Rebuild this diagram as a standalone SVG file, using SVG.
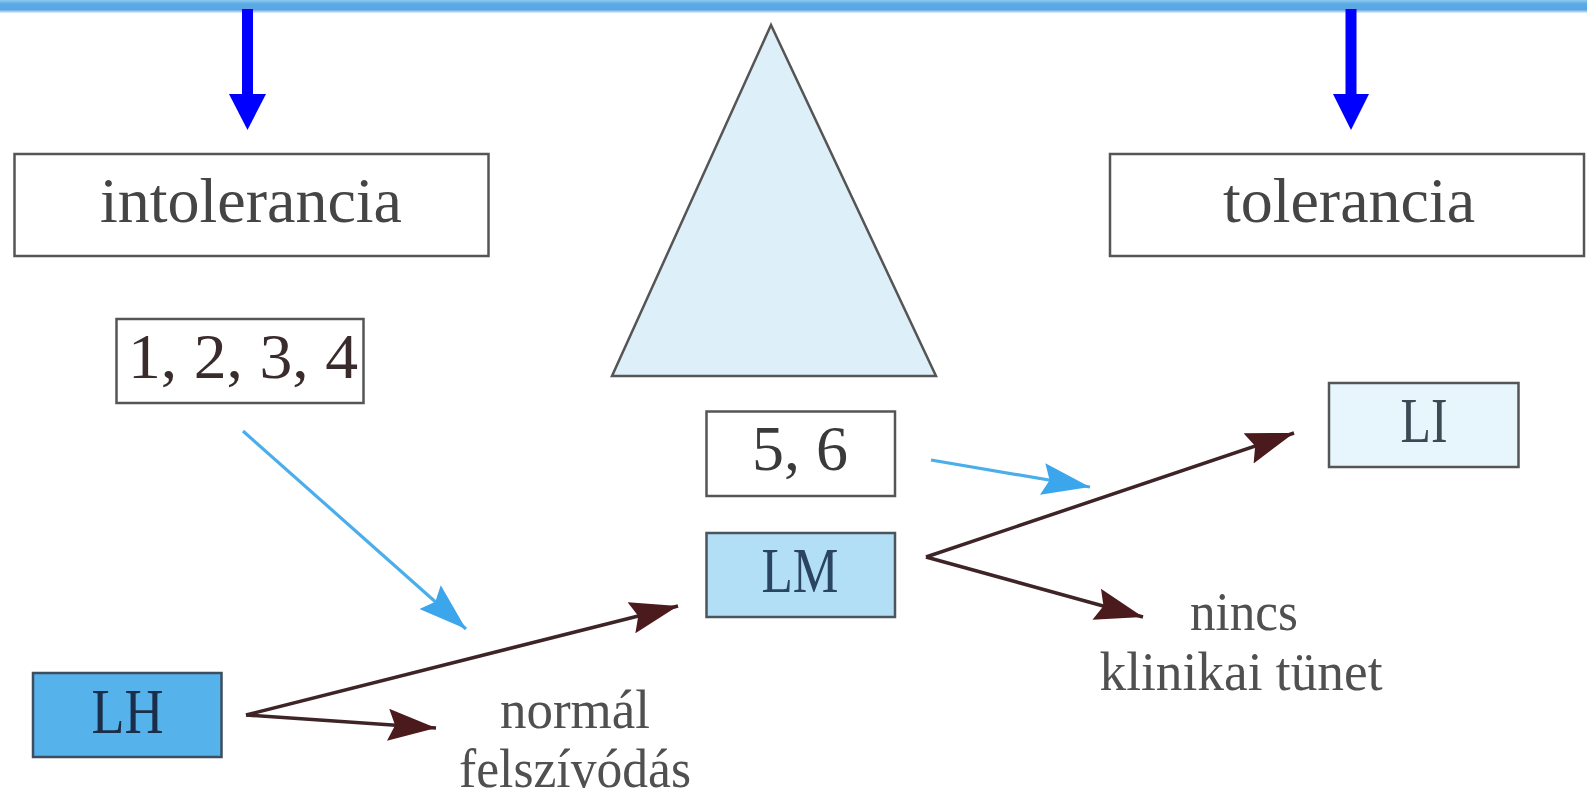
<svg xmlns="http://www.w3.org/2000/svg" width="1587" height="798" viewBox="0 0 1587 798">
  <defs>
    <linearGradient id="topbar" x1="0" y1="0" x2="0" y2="1">
      <stop offset="0" stop-color="#8ccaf0"/>
      <stop offset="0.3" stop-color="#5aaae6"/>
      <stop offset="0.75" stop-color="#5aa6e2"/>
      <stop offset="1" stop-color="#e8f4fc"/>
    </linearGradient>
    <marker id="darkHead" markerUnits="userSpaceOnUse" markerWidth="50" markerHeight="32" refX="48" refY="16" orient="auto" viewBox="0 0 50 32">
      <path d="M0,0 L48,16 L0,32 L7,16 z" fill="#4a1a1c"/>
    </marker>
    <marker id="blueHead" markerUnits="userSpaceOnUse" markerWidth="50" markerHeight="32" refX="48" refY="16" orient="auto" viewBox="0 0 50 32">
      <path d="M0,0 L48,16 L0,32 L7,16 z" fill="#3ba6ec"/>
    </marker>
    <style>
      .box { fill: #ffffff; stroke: #555555; stroke-width: 2.5; }
      .big { font-family: "Liberation Serif", "DejaVu Serif", serif; font-size: 64px; text-anchor: middle; }
      .lbl { font-family: "Liberation Serif", "DejaVu Serif", serif; font-size: 54px; text-anchor: middle; fill: #505050; }
      .dark { stroke: #3e2426; stroke-width: 3.5; fill: none; marker-end: url(#darkHead); }
      .blue { stroke: #4aaeea; stroke-width: 3.2; fill: none; marker-end: url(#blueHead); }
      .topArrow { fill: #0000ff; }
    </style>
  </defs>

  <rect x="0" y="0" width="1587" height="798" fill="#ffffff"/>

  <g id="top-bar">
    <rect x="0" y="0" width="1587" height="13" fill="url(#topbar)"/>
  </g>

  <g id="connectors">
    <g id="arrow-top-left">
      <rect class="topArrow" x="242" y="9" width="11" height="86"/>
      <polygon class="topArrow" points="229,94 266,94 247.5,130"/>
    </g>
    <g id="arrow-top-right">
      <rect class="topArrow" x="1345.5" y="9" width="11" height="86"/>
      <polygon class="topArrow" points="1333,94 1369,94 1351,130"/>
    </g>
    <line class="blue" x1="243" y1="431" x2="466" y2="629"/>
    <line class="blue" x1="931" y1="460" x2="1090" y2="487"/>
    <line class="dark" x1="246" y1="715" x2="678" y2="606"/>
    <line class="dark" x1="246" y1="715" x2="436" y2="728"/>
    <line class="dark" x1="926" y1="557" x2="1294" y2="433"/>
    <line class="dark" x1="926" y1="557" x2="1143" y2="617"/>
  </g>

  <g id="node-intolerancia">
    <rect class="box" x="14.5" y="154" width="474" height="102"/>
    <text class="big" x="251" y="222" fill="#454545" textLength="302" lengthAdjust="spacingAndGlyphs">intolerancia</text>
  </g>

  <g id="node-triangle">
    <polygon points="771,25 612,376 936,376" fill="#ddeff8" stroke="#555555" stroke-width="2.5" stroke-linejoin="miter"/>
  </g>

  <g id="node-tolerancia">
    <rect class="box" x="1110" y="154" width="474" height="102"/>
    <text class="big" x="1349" y="222" fill="#454545" textLength="252" lengthAdjust="spacingAndGlyphs">tolerancia</text>
  </g>

  <g id="node-1234">
    <rect class="box" x="116.5" y="319" width="247" height="84"/>
    <text class="big" x="243" y="378" fill="#3a2c2c" textLength="230" lengthAdjust="spacingAndGlyphs">1, 2, 3, 4</text>
  </g>

  <g id="node-56">
    <rect class="box" x="706.5" y="411.5" width="188.5" height="84.5"/>
    <text class="big" x="800" y="470" fill="#3a3a3a" textLength="96" lengthAdjust="spacingAndGlyphs">5, 6</text>
  </g>

  <g id="node-LM">
    <rect x="706.5" y="533" width="188.5" height="84" fill="#b2def6" stroke="#4a5560" stroke-width="2.5"/>
    <text class="big" x="800" y="592" fill="#2a4560" textLength="77" lengthAdjust="spacingAndGlyphs">LM</text>
  </g>

  <g id="node-LI">
    <rect x="1329" y="383" width="189.5" height="84" fill="#e6f6fc" stroke="#555555" stroke-width="2.5"/>
    <text class="big" x="1424" y="442" fill="#3c4a55" textLength="47" lengthAdjust="spacingAndGlyphs">LI</text>
  </g>

  <g id="node-LH">
    <rect x="33" y="673" width="188.5" height="84" fill="#56b2ea" stroke="#3c4e60" stroke-width="2.5"/>
    <text class="big" x="127.5" y="733" fill="#1a2e4a" textLength="72" lengthAdjust="spacingAndGlyphs">LH</text>
  </g>

  <g id="node-normal">
    <text class="lbl" x="575" y="728" textLength="150" lengthAdjust="spacingAndGlyphs">normál</text>
    <text class="lbl" x="575" y="787" textLength="232" lengthAdjust="spacingAndGlyphs">felszívódás</text>
  </g>

  <g id="node-nincs">
    <text class="lbl" x="1244" y="630" textLength="108" lengthAdjust="spacingAndGlyphs">nincs</text>
    <text class="lbl" x="1241" y="690" textLength="283" lengthAdjust="spacingAndGlyphs">klinikai tünet</text>
  </g>
</svg>
